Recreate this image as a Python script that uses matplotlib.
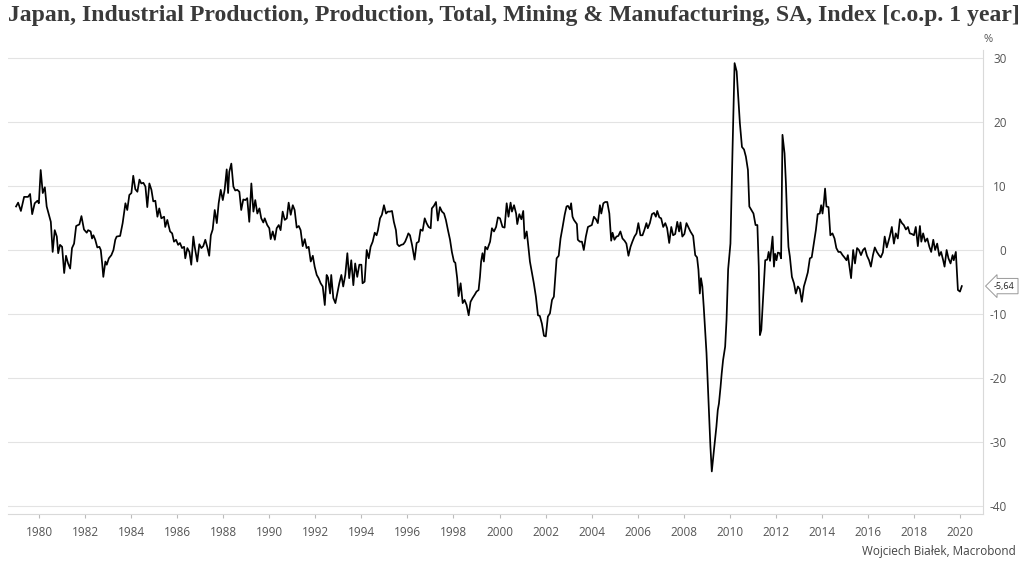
import matplotlib
matplotlib.use("Agg")
import matplotlib.pyplot as plt

# Japan IP, y/y % change
years = [
    1979.00, 1979.09, 1979.21, 1979.35, 1979.52, 1979.61, 1979.70, 1979.81, 1979.93, 1979.99,
    1980.07, 1980.16, 1980.25, 1980.33, 1980.45, 1980.51, 1980.59, 1980.68, 1980.77, 1980.83,
    1980.91, 1981.00, 1981.09, 1981.17, 1981.26, 1981.35, 1981.43, 1981.52, 1981.61, 1981.75,
    1981.84, 1981.95, 1982.07, 1982.13, 1982.24, 1982.30, 1982.36, 1982.44, 1982.53, 1982.62,
    1982.68, 1982.74, 1982.79, 1982.88, 1982.94, 1983.03, 1983.14, 1983.23, 1983.31, 1983.37,
    1983.52, 1983.63, 1983.75, 1983.83, 1983.92, 1984.01, 1984.09, 1984.18, 1984.27, 1984.36,
    1984.44, 1984.53, 1984.62, 1984.70, 1984.79, 1984.88, 1984.96, 1985.05, 1985.14, 1985.22,
    1985.31, 1985.43, 1985.48, 1985.57, 1985.62, 1985.69, 1985.78, 1985.86, 1985.95, 1986.04,
    1986.12, 1986.21, 1986.30, 1986.35, 1986.44, 1986.53, 1986.61, 1986.70, 1986.76, 1986.87,
    1986.96, 1987.05, 1987.13, 1987.22, 1987.31, 1987.39, 1987.46, 1987.54, 1987.63, 1987.72,
    1987.80, 1987.89, 1987.98, 1988.06, 1988.15, 1988.21, 1988.26, 1988.35, 1988.44, 1988.52,
    1988.61, 1988.70, 1988.78, 1988.87, 1988.96, 1989.04, 1989.13, 1989.22, 1989.31, 1989.39,
    1989.48, 1989.57, 1989.65, 1989.74, 1989.80, 1989.91, 1990.00, 1990.06, 1990.15, 1990.24,
    1990.32, 1990.41, 1990.49, 1990.58, 1990.67, 1990.76, 1990.84, 1990.93, 1991.02, 1991.10,
    1991.19, 1991.28, 1991.36, 1991.45, 1991.54, 1991.62, 1991.71, 1991.80, 1991.89, 1991.97,
    1992.06, 1992.14, 1992.23, 1992.32, 1992.41, 1992.49, 1992.55, 1992.64, 1992.69, 1992.78,
    1992.87, 1992.95, 1993.04, 1993.13, 1993.21, 1993.30, 1993.39, 1993.47, 1993.56, 1993.65,
    1993.73, 1993.82, 1993.91, 1994.00, 1994.05, 1994.14, 1994.23, 1994.32, 1994.40, 1994.49,
    1994.58, 1994.66, 1994.72, 1994.81, 1994.89, 1994.98, 1995.07, 1995.15, 1995.24, 1995.33,
    1995.41, 1995.50, 1995.56, 1995.64, 1995.73, 1995.82, 1995.90, 1995.99, 1996.04, 1996.11,
    1996.20, 1996.31, 1996.40, 1996.49, 1996.57, 1996.66, 1996.75, 1996.83, 1996.92, 1997.01,
    1997.06, 1997.15, 1997.24, 1997.32, 1997.41, 1997.50, 1997.59, 1997.67, 1997.76, 1997.85,
    1997.93, 1998.02, 1998.08, 1998.16, 1998.22, 1998.31, 1998.40, 1998.48, 1998.57, 1998.66,
    1998.74, 1998.83, 1998.92, 1999.00, 1999.09, 1999.15, 1999.20, 1999.26, 1999.32, 1999.38,
    1999.47, 1999.59, 1999.67, 1999.76, 1999.85, 1999.93, 2000.02, 2000.13, 2000.22, 2000.31,
    2000.39, 2000.48, 2000.54, 2000.63, 2000.72, 2000.77, 2000.86, 2000.95, 2001.03, 2001.09,
    2001.18, 2001.23, 2001.32, 2001.41, 2001.49, 2001.58, 2001.67, 2001.75, 2001.84, 2001.93,
    2002.01, 2002.10, 2002.19, 2002.28, 2002.36, 2002.42, 2002.48, 2002.57, 2002.65, 2002.74,
    2002.83, 2002.91, 2002.97, 2003.06, 2003.11, 2003.17, 2003.23, 2003.36, 2003.40, 2003.49,
    2003.58, 2003.66, 2003.75, 2003.84, 2003.93, 2004.01, 2004.10, 2004.19, 2004.27, 2004.36,
    2004.42, 2004.51, 2004.59, 2004.68, 2004.77, 2004.85, 2004.91, 2004.99, 2005.08, 2005.16,
    2005.25, 2005.34, 2005.43, 2005.51, 2005.60, 2005.69, 2005.77, 2005.86, 2005.95, 2006.03,
    2006.12, 2006.21, 2006.29, 2006.38, 2006.44, 2006.53, 2006.62, 2006.71, 2006.79, 2006.85,
    2006.94, 2007.02, 2007.11, 2007.20, 2007.28, 2007.37, 2007.46, 2007.54, 2007.63, 2007.72,
    2007.80, 2007.86, 2007.94, 2008.03, 2008.12, 2008.20, 2008.29, 2008.41, 2008.50, 2008.58,
    2008.64, 2008.70, 2008.75, 2008.81, 2008.87, 2008.93, 2008.99, 2009.04, 2009.10, 2009.16,
    2009.22, 2009.27, 2009.33, 2009.42, 2009.48, 2009.53, 2009.60, 2009.65, 2009.71, 2009.80,
    2009.86, 2009.93, 2010.03, 2010.12, 2010.21, 2010.30, 2010.35, 2010.44, 2010.53, 2010.62,
    2010.70, 2010.79, 2010.85, 2010.94, 2011.03, 2011.12, 2011.20, 2011.26, 2011.31, 2011.37,
    2011.45, 2011.54, 2011.63, 2011.69, 2011.75, 2011.80, 2011.86, 2011.92, 2011.97, 2012.03,
    2012.09, 2012.17, 2012.23, 2012.29, 2012.38, 2012.44, 2012.49, 2012.55, 2012.61, 2012.70,
    2012.79, 2012.87, 2012.96, 2013.04, 2013.13, 2013.22, 2013.30, 2013.39, 2013.48, 2013.56,
    2013.65, 2013.74, 2013.82, 2013.91, 2013.97, 2014.03, 2014.09, 2014.14, 2014.20, 2014.29,
    2014.37, 2014.46, 2014.55, 2014.63, 2014.72, 2014.81, 2014.90, 2014.98, 2015.07, 2015.13,
    2015.18, 2015.27, 2015.36, 2015.44, 2015.53, 2015.61, 2015.70, 2015.79, 2015.87, 2015.96,
    2016.05, 2016.13, 2016.22, 2016.30, 2016.39, 2016.48, 2016.56, 2016.65, 2016.73, 2016.82,
    2016.95, 2017.04, 2017.13, 2017.21, 2017.30, 2017.39, 2017.48, 2017.56, 2017.65, 2017.74,
    2017.82, 2017.91, 2018.00, 2018.08, 2018.17, 2018.26, 2018.32, 2018.40, 2018.49, 2018.58,
    2018.67, 2018.75, 2018.84, 2018.92, 2019.01, 2019.10, 2019.18, 2019.27, 2019.33, 2019.42,
    2019.50, 2019.59, 2019.68, 2019.73, 2019.82, 2019.91, 2020.00, 2020.08,
]
values = [
    6.8, 7.4, 6.1, 8.3, 8.3, 8.75, 5.6, 7.3, 7.7, 7.3,
    12.5, 8.9, 9.8, 6.8, 5.2, 4.4, -0.3, 3.1, 2.1, -0.5,
    0.8, 0.5, -3.6, -0.9, -2.1, -2.9, 0.3, 1.0, 3.75, 4.0,
    5.3, 3.2, 2.7, 3.1, 2.9, 1.8, 2.3, 1.6, 0.4, 0.5,
    0.0, -2.1, -4.2, -1.8, -2.3, -1.3, -0.8, 0.0, 1.6, 2.1,
    2.2, 4.2, 7.3, 6.25, 8.6, 8.9, 11.6, 9.5, 9.1, 11.0,
    10.4, 10.5, 9.9, 6.7, 10.4, 9.4, 7.6, 7.7, 5.2, 6.5,
    4.95, 5.2, 3.6, 4.7, 3.9, 2.9, 2.6, 1.3, 1.6, 0.8,
    1.1, 0.3, 0.5, -1.3, 0.3, -0.3, -2.3, 2.1, 0.5, -1.8,
    0.9, 0.3, 0.6, 1.6, 0.4, -0.9, 2.3, 3.2, 6.25, 4.2,
    7.3, 9.4, 7.8, 9.4, 12.6, 8.9, 12.2, 13.5, 9.9, 9.3,
    9.4, 9.1, 6.25, 7.9, 7.8, 8.1, 4.4, 10.4, 6.0, 7.8,
    5.7, 6.5, 4.95, 4.3, 4.95, 3.9, 3.4, 1.7, 2.9, 1.6,
    3.4, 3.9, 3.1, 6.0, 4.7, 4.95, 7.4, 5.5, 7.0, 6.25,
    3.5, 3.75, 3.1, 0.6, 1.7, 0.3, 0.5, -1.8, -0.9, -2.6,
    -3.9, -4.4, -5.2, -5.7, -8.6, -3.9, -4.3, -6.8, -3.9, -7.5,
    -8.3, -6.8, -5.2, -3.9, -5.7, -3.9, -0.5, -4.4, -1.6, -5.5,
    -2.1, -4.2, -2.3, -2.3, -5.2, -4.95, 0.0, -1.3, 0.5, 1.3,
    2.7, 2.3, 3.1, 4.95, 5.5, 7.0, 5.7, 6.0, 6.0, 6.1,
    4.4, 3.1, 0.9, 0.6, 0.8, 0.9, 1.3, 2.1, 2.6, 2.3,
    0.8, -1.5, 1.1, 1.3, 3.2, 3.0, 4.95, 4.2, 3.6, 3.4,
    6.5, 6.9, 7.5, 4.6, 6.7, 6.0, 5.7, 4.7, 3.1, 1.6,
    -0.3, -1.8, -2.0, -4.4, -7.2, -5.2, -8.3, -7.8, -8.6, -10.2,
    -8.1, -7.5, -7.0, -6.5, -6.25, -4.2, -1.8, -0.5, -1.8, 0.5,
    0.1, 1.3, 3.4, 2.9, 3.6, 5.1, 4.95, 3.6, 3.5, 7.3,
    5.2, 7.4, 6.0, 7.0, 5.7, 4.05, 5.6, 4.8, 6.1, 1.8,
    2.9, 1.3, -1.8, -3.6, -5.2, -7.3, -10.2, -10.3, -11.5, -13.4,
    -13.5, -10.4, -9.9, -7.8, -7.3, -4.4, -1.3, -0.9, 1.8, 3.6,
    5.5, 6.8, 6.9, 6.35, 7.3, 5.2, 4.7, 4.05, 1.6, 1.3,
    1.3, 0.0, 2.1, 3.6, 3.75, 3.9, 5.2, 4.8, 4.2, 7.0,
    5.7, 7.3, 7.5, 7.5, 5.7, 1.45, 2.7, 1.6, 2.1, 2.2,
    2.9, 1.8, 1.45, 1.0, -0.9, 0.5, 1.3, 2.1, 2.6, 4.2,
    2.3, 2.3, 3.1, 4.2, 3.4, 4.2, 5.6, 5.8, 5.2, 6.1,
    5.1, 4.95, 3.6, 4.2, 3.4, 1.1, 3.6, 2.3, 2.5, 4.4,
    2.9, 4.3, 2.1, 2.5, 4.2, 3.6, 2.9, 2.2, -0.8, -1.15,
    -3.1, -6.8, -4.4, -5.7, -8.9, -12.5, -16.1, -20.3, -25.5, -30.7,
    -34.6, -32.8, -30.7, -27.6, -25.0, -24.0, -21.4, -19.3, -17.2, -15.1,
    -10.9, -3.0, 1.0, 15.6, 29.2, 27.9, 25.0, 19.8, 16.1, 15.7,
    14.6, 12.5, 6.8, 6.25, 5.7, 3.9, 3.9, -2.6, -13.3, -12.5,
    -7.3, -1.6, -1.5, -0.3, -1.7, 0.0, 2.1, -2.6, -0.6, -1.6,
    -0.4, -0.5, -1.3, 18.0, 15.1, 10.4, 5.2, 0.5, -1.0, -4.2,
    -5.2, -6.8, -5.7, -6.1, -8.1, -5.7, -4.7, -3.5, -1.3, -1.15,
    1.0, 3.1, 5.6, 5.7, 7.0, 5.7, 7.5, 9.6, 6.8, 6.7,
    2.3, 2.6, 1.8, 0.3, -0.3, -0.3, -0.8, -1.15, -1.6, -0.8,
    -2.1, -4.4, 0.0, -2.1, 0.3, 0.0, -0.8, 0.0, 0.3, -0.9,
    -1.6, -2.6, -0.8, 0.4, -0.3, -0.8, -1.15, -0.4, 2.1, 0.4,
    2.1, 3.6, 1.0, 2.6, 1.8, 4.8, 4.2, 3.9, 3.2, 3.6,
    2.6, 2.5, 2.3, 3.6, 0.6, 3.75, 1.3, 2.6, 1.3, 1.8,
    0.5, -0.3, 1.6, 0.0, 1.0, -0.9, -0.3, -1.6, -2.6, 0.0,
    -1.3, -2.1, -0.8, -1.6, -0.3, -6.25, -6.5, -5.64,
]
yticks = [30, 20, 10, 0, -10, -20, -30, -40]
xticks = list(range(1980, 2021, 2))

title = "Japan, Industrial Production, Production, Total, Mining & Manufacturing, SA, Index [c.o.p. 1 year]"
last_label = "-5,64"
source = "Wojciech Białek, Macrobond"

plt.rcParams['axes.unicode_minus'] = False
plt.rcParams['font.family'] = ['Open Sans', 'DejaVu Sans']

W, H = 1024, 569
fig = plt.figure(figsize=(W / 100, H / 100), dpi=100)
ax = fig.add_axes([8 / W, 1 - 514 / H, (983 - 8) / W, (514 - 50) / H])

ax.plot(years, values, color='black', linewidth=1.25, solid_joinstyle='round')

ax.set_xlim(1978.65, 2021.0)
ax.set_ylim(-41.25, 31.25)

ax.set_yticks(yticks)
ax.set_xticks(xticks)
ax.yaxis.tick_right()
ax.grid(axis='y', color='#e3e3e3', linewidth=0.8)
ax.set_axisbelow(True)

for side in ['top', 'left']:
    ax.spines[side].set_visible(False)
ax.spines['right'].set_color('#d9d9d9')
ax.spines['bottom'].set_color('#d9d9d9')

ax.tick_params(axis='y', length=0, pad=17, labelsize=8.5, labelcolor='#555555')
for lab in ax.get_yticklabels():
    lab.set_horizontalalignment('right')
ax.tick_params(axis='x', length=3, color='#bbbbbb', pad=6, labelsize=8.5, labelcolor='#555555')

# last-value tag
ax.annotate(last_label, xy=(1.0, values[-1]), xycoords=('axes fraction', 'data'),
            xytext=(8, 0), textcoords='offset points', fontsize=6.5, color='#222222',
            va='center', ha='left',
            bbox=dict(boxstyle='larrow,pad=0.35', fc='white', ec='#999999', lw=0.7),
            annotation_clip=False)

fig.text(983 / W, 1 - 40 / H, '%', fontsize=8, color='#555555', ha='left', va='center')
fig.text(1016 / W, 1 - 551 / H, source, fontsize=8.5, color='#444444', ha='right', va='center')

t = fig.text(8 / W, 1 - 15 / H, title, fontsize=13, fontweight='bold',
             family='Liberation Serif', color='#3a3a3a', ha='left', va='center')
fig.canvas.draw()
w = t.get_window_extent().width
t.set_fontsize(13 * (1008 / w))

fig.savefig('out.png', dpi=100)
